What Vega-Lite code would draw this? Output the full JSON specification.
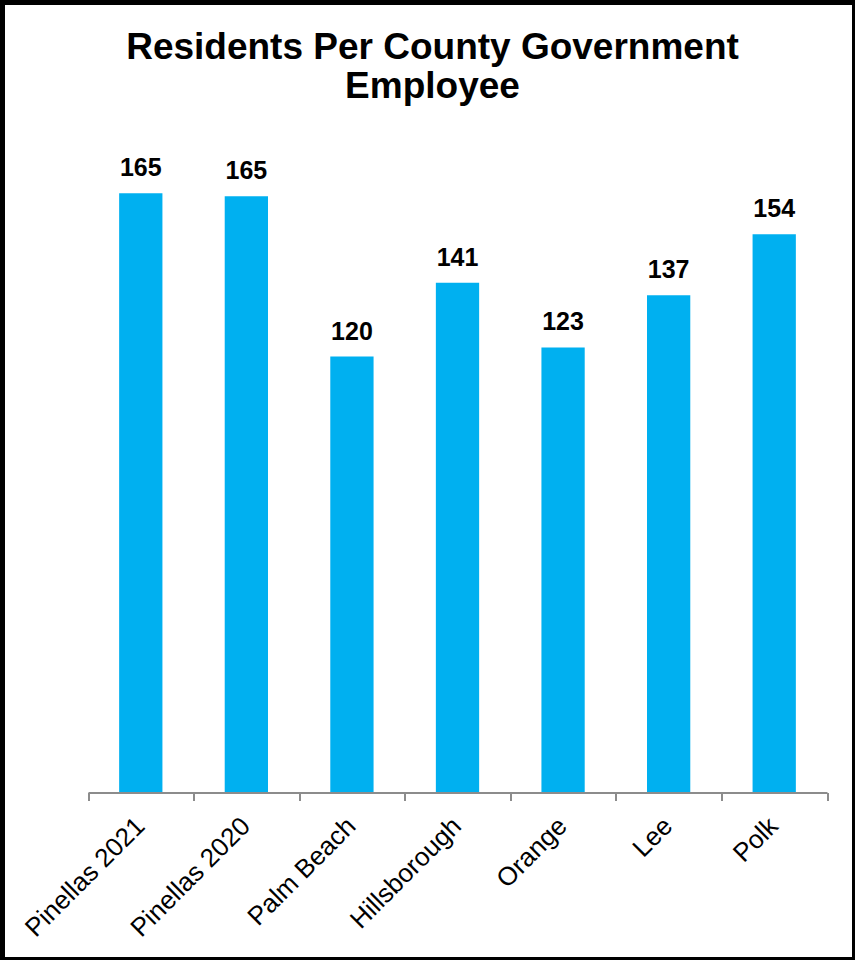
{
  "$schema": "https://vega.github.io/schema/vega-lite/v6.json",
  "autosize": "none",
  "width": 852,
  "height": 957,
  "padding": {"left": 2.5, "top": 2.5, "right": 0, "bottom": 0},
  "background": "white",
  "config": {
    "view": {"stroke": "black", "strokeWidth": 5, "fill": "white"},
    "font": "Liberation Sans"
  },
  "title": {
    "text": ["Residents Per County Government", "Employee"],
    "font": "Liberation Sans",
    "fontSize": 37,
    "fontWeight": "bold",
    "color": "black",
    "lineHeight": 39,
    "anchor": "middle",
    "baseline": "top",
    "dx": 4,
    "offset": -103
  },
  "data": {
    "values": [
      {"county": "Pinellas 2021", "residents": 165.4},
      {"county": "Pinellas 2020", "residents": 164.6},
      {"county": "Palm Beach", "residents": 120.3},
      {"county": "Hillsborough", "residents": 140.7},
      {"county": "Orange", "residents": 122.8},
      {"county": "Lee", "residents": 137.2},
      {"county": "Polk", "residents": 154.1}
    ]
  },
  "encoding": {
    "x": {
      "field": "county",
      "type": "nominal",
      "sort": null,
      "scale": {"range": [85.5, 824.5], "paddingInner": 0, "paddingOuter": 0},
      "axis": {
        "title": null,
        "orient": "bottom",
        "offset": -167,
        "labelAngle": -45,
        "labelAlign": "right",
        "labelBaseline": "top",
        "labelFont": "Liberation Sans",
        "labelFontSize": 26,
        "labelColor": "black",
        "labelPadding": 12,
        "labelOffset": -10,
        "labelLimit": 300,
        "domainColor": "#8c8c8c",
        "domainWidth": 2,
        "tickColor": "#8c8c8c",
        "tickWidth": 2,
        "tickSize": 8,
        "tickBand": "extent",
        "grid": false
      }
    },
    "y": {
      "field": "residents",
      "type": "quantitative",
      "scale": {"domain": [0, 200], "range": [789.5, 65.5], "nice": false, "zero": true},
      "axis": null
    }
  },
  "layer": [
    {
      "mark": {"type": "bar", "color": "#00B0F0", "width": {"band": 0.41}}
    },
    {
      "mark": {
        "type": "text",
        "font": "Liberation Sans",
        "fontSize": 25,
        "fontWeight": "bold",
        "color": "black",
        "baseline": "alphabetic",
        "dy": -17
      },
      "encoding": {
        "text": {"field": "residents", "type": "quantitative", "format": ".0f"}
      }
    }
  ]
}
